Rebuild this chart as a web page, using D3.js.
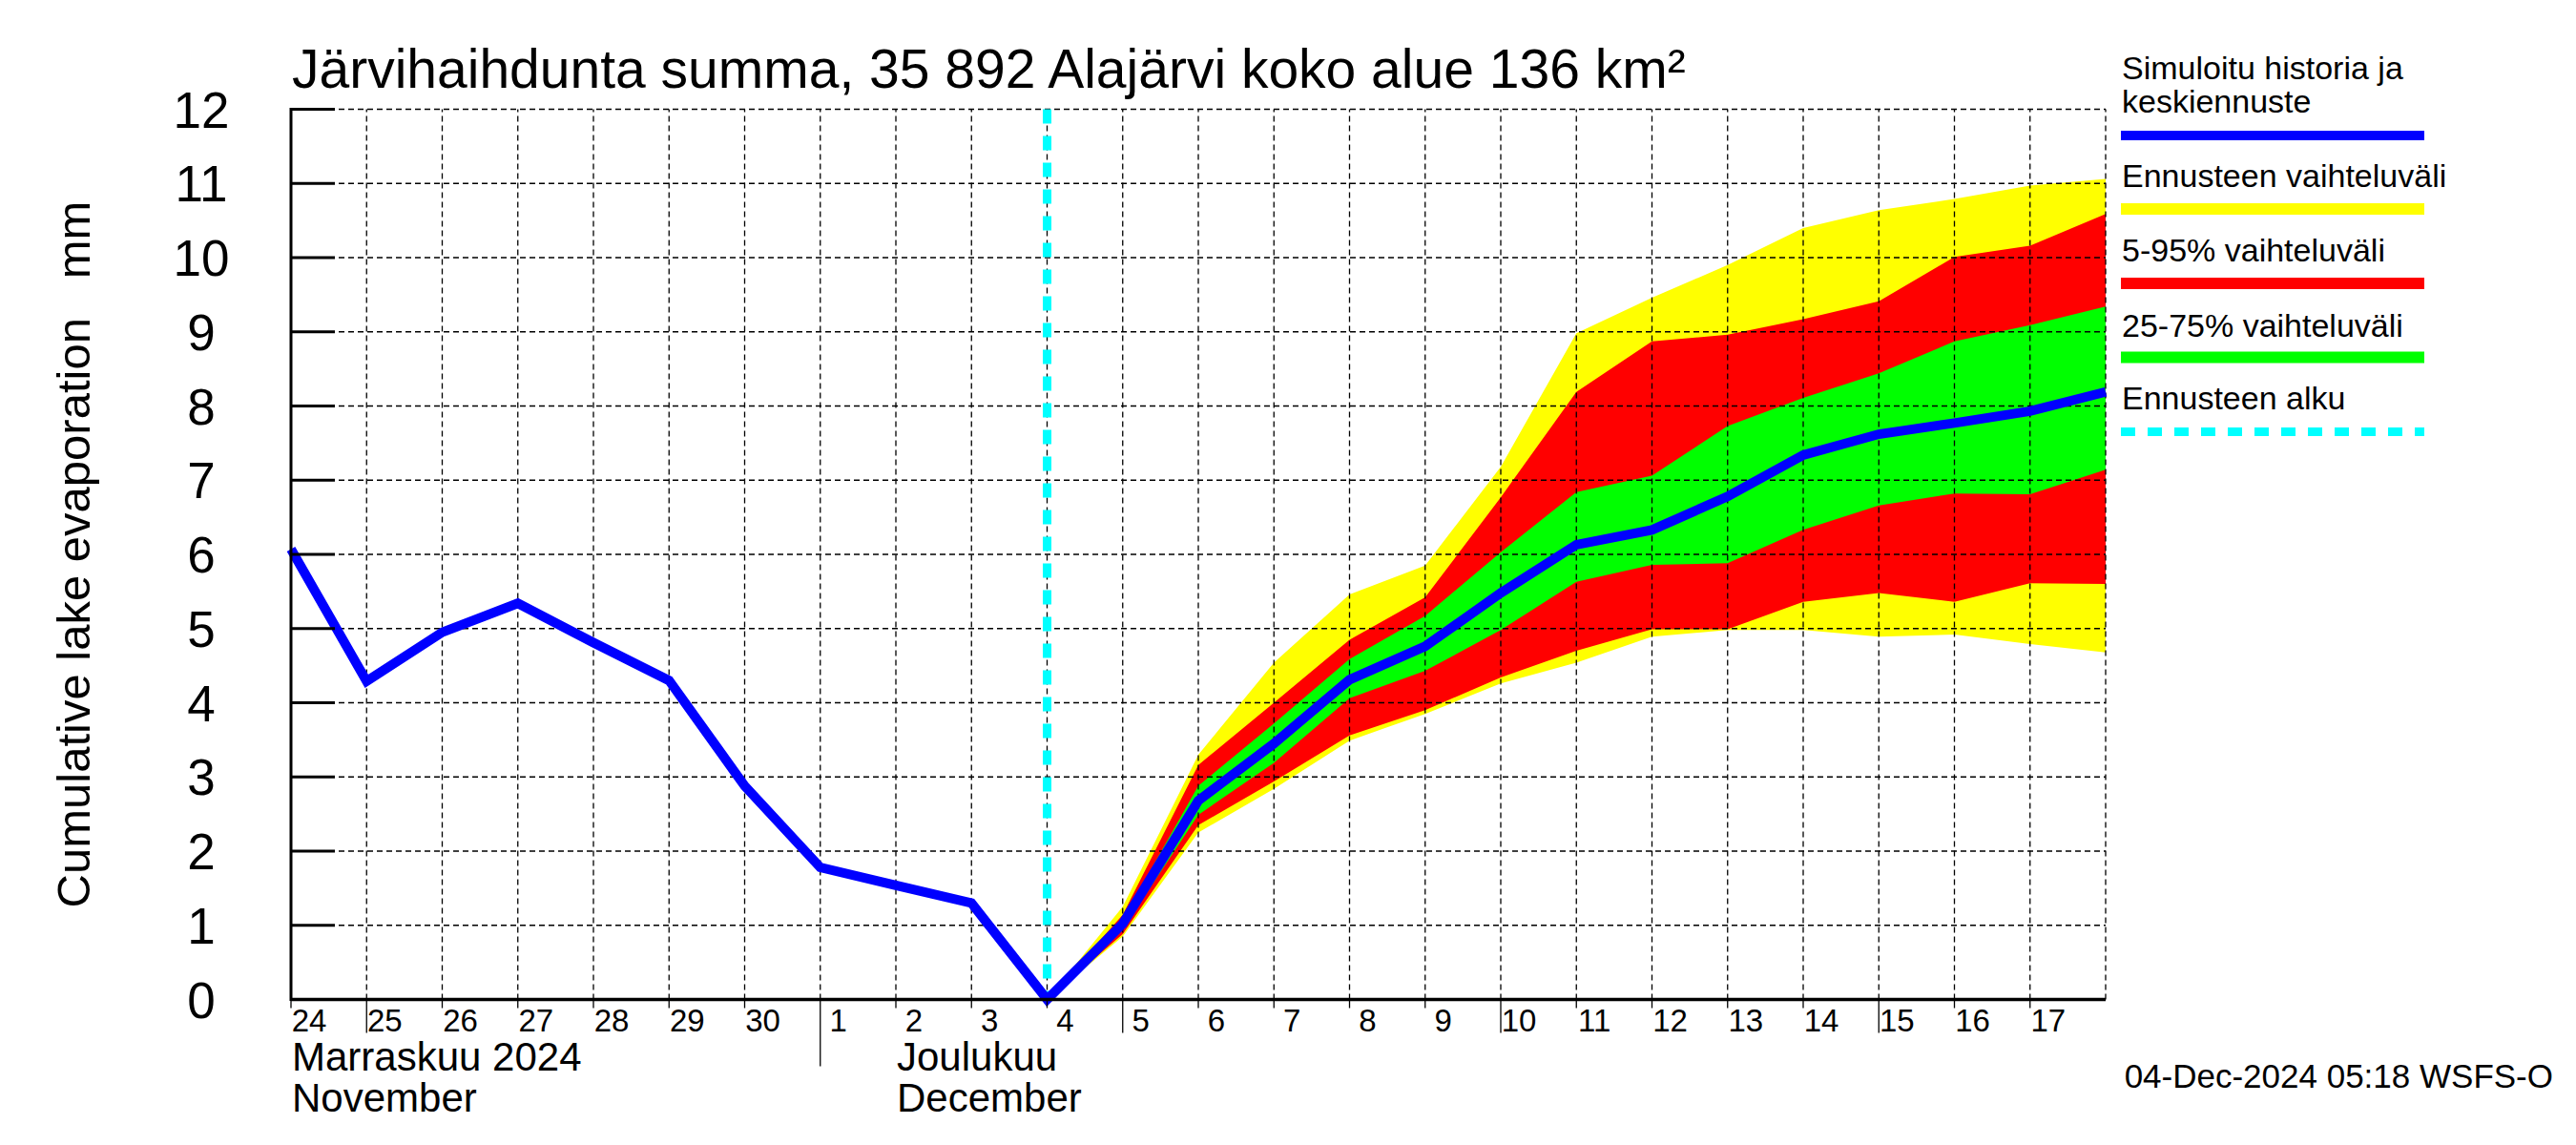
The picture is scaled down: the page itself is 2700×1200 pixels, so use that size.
<!DOCTYPE html>
<html><head><meta charset="utf-8">
<script src="https://cdn.jsdelivr.net/npm/d3@7"></script>
<style>
body{margin:0;background:#fff}
svg{display:block;background:#fff}
text{font-family:"Liberation Sans",Arial,Helvetica,sans-serif;fill:#000}
</style>
</head><body>
<svg id="chart" width="2700" height="1200"></svg>
<script>
// ---------- data ----------
const titleText = "Järvihaihdunta summa, 35 892 Alajärvi koko alue 136 km²";
const yAxisLabel = "Cumulative lake evaporation   mm";
const yTicks = [0,1,2,3,4,5,6,7,8,9,10,11,12];

const historyDates = ["2024-11-24","2024-11-25","2024-11-26","2024-11-27","2024-11-28","2024-11-29","2024-11-30","2024-12-01","2024-12-02","2024-12-03","2024-12-04"];
const historyValues = [6.07,4.29,4.95,5.34,4.81,4.30,2.88,1.78,1.54,1.30,0.0];

const forecastDates = ["2024-12-04","2024-12-05","2024-12-06","2024-12-07","2024-12-08","2024-12-09","2024-12-10","2024-12-11","2024-12-12","2024-12-13","2024-12-14","2024-12-15","2024-12-16","2024-12-17","2024-12-18"];
const forecastMax    = [0,1.25,3.30,4.54,5.46,5.85,7.18,8.98,9.46,9.90,10.40,10.64,10.79,10.97,11.06];
const forecastP95    = [0,1.14,3.16,4.00,4.85,5.42,6.77,8.19,8.87,8.96,9.17,9.41,10.01,10.16,10.59];
const forecastP75    = [0,1.08,2.88,3.72,4.59,5.17,6.03,6.84,7.06,7.73,8.11,8.44,8.87,9.09,9.34];
const forecastMedian = [0,1.02,2.68,3.45,4.31,4.76,5.48,6.13,6.33,6.78,7.34,7.62,7.77,7.93,8.19];
const forecastP25    = [0,0.95,2.49,3.19,4.06,4.43,4.98,5.63,5.86,5.88,6.33,6.66,6.82,6.81,7.14];
const forecastP5     = [0,0.88,2.35,2.94,3.56,3.90,4.34,4.70,4.99,4.99,5.36,5.48,5.36,5.61,5.60];
const forecastMin    = [0,0.85,2.25,2.84,3.49,3.85,4.26,4.54,4.89,4.98,4.98,4.89,4.92,4.79,4.68];

const forecastStart = "2024-12-04";
const axisStart = "2024-11-24";
const axisEnd = "2024-12-18";
const longTickDays = [5,10,15,20,25];

const monthLabels = [
  {date:"2024-11-24", lines:["Marraskuu 2024","November"]},
  {date:"2024-12-02", lines:["Joulukuu","December"]}
];
const monthStarts = ["2024-12-01"];

const legendLabels = [["Simuloitu historia ja","keskiennuste"],["Ennusteen vaihteluväli"],["5-95% vaihteluväli"],["25-75% vaihteluväli"],["Ennusteen alku"]];
const legendColors = ["#0000ff","#ffff00","#ff0000","#00ff00","#00ffff"];
const footerText = "04-Dec-2024 05:18 WSFS-O";

// ---------- drawing ----------
const parse = d3.timeParse("%Y-%m-%d");
const svg = d3.select("#chart");

const x = d3.scaleTime().domain([parse(axisStart), parse(axisEnd)]).range([305, 2207]);
const y = d3.scaleLinear().domain([0, 12]).range([1047.5, 114.5]);

const fc = forecastDates.map((d,i)=>({date:parse(d), max:forecastMax[i], p95:forecastP95[i], p75:forecastP75[i], med:forecastMedian[i], p25:forecastP25[i], p5:forecastP5[i], min:forecastMin[i]}));
const hist = historyDates.map((d,i)=>({date:parse(d), v:historyValues[i]}));

const band = (lo, hi) => d3.area().x(d=>x(d.date)).y0(d=>y(d[lo])).y1(d=>y(d[hi]));
svg.append("path").datum(fc).attr("d", band("min","max")).attr("fill","#ffff00");
svg.append("path").datum(fc).attr("d", band("p5","p95")).attr("fill","#ff0000");
svg.append("path").datum(fc).attr("d", band("p25","p75")).attr("fill","#00ff00");

// grid
const days = d3.timeDay.range(parse(axisStart), d3.timeDay.offset(parse(axisEnd),1));
const grid = svg.append("g").attr("stroke","#000").attr("stroke-width",1.3).attr("stroke-dasharray","6,4").attr("fill","none");
days.slice(1).forEach(d=>{
  grid.append("line").attr("x1",x(d)).attr("x2",x(d)).attr("y1",y(0)).attr("y2",y(12));
});
yTicks.slice(1).forEach(v=>{
  grid.append("line").attr("x1",x(parse(axisStart))).attr("x2",x(parse(axisEnd))).attr("y1",y(v)).attr("y2",y(v));
});

// forecast start line
svg.append("line").attr("x1",x(parse(forecastStart))).attr("x2",x(parse(forecastStart)))
  .attr("y1",y(12)).attr("y2",y(0)).attr("stroke","#00ffff").attr("stroke-width",9).attr("stroke-dasharray","15,13");

// blue line
const line = d3.line().x(d=>x(d.date)).y(d=>y(d.v));
const blueData = hist.concat(fc.slice(1).map(d=>({date:d.date, v:d.med})));
svg.append("path").datum(blueData).attr("d", line).attr("fill","none").attr("stroke","#0000ff").attr("stroke-width",10).attr("stroke-linejoin","miter");

// axes
const x0 = x(parse(axisStart));
svg.append("line").attr("x1",x0).attr("x2",x0).attr("y1",y(12)-1.5).attr("y2",y(0)+1.5).attr("stroke","#000").attr("stroke-width",3);
svg.append("line").attr("x1",x0).attr("x2",x(parse(axisEnd))).attr("y1",y(0)).attr("y2",y(0)).attr("stroke","#000").attr("stroke-width",3.5);
yTicks.forEach(v=>{
  svg.append("line").attr("x1",x0).attr("x2",x0+46).attr("y1",y(v)).attr("y2",y(v)).attr("stroke","#000").attr("stroke-width",3);
  svg.append("text").attr("x",211).attr("y",y(v)+19).attr("text-anchor","middle").attr("font-size",53).text(v);
});

// x ticks & labels
days.slice(0,-1).forEach(d=>{
  const isMonth = monthStarts.some(m=>+parse(m)===+d);
  const len = isMonth ? 70 : (longTickDays.includes(d.getDate()) ? 35 : 9);
  svg.append("line").attr("x1",x(d)).attr("x2",x(d)).attr("y1",y(0)).attr("y2",y(0)+len).attr("stroke","#000").attr("stroke-width",1.3);
  svg.append("text").attr("x",x(d)+19).attr("y",1081).attr("text-anchor","middle").attr("font-size",33).text(d.getDate());
});
monthLabels.forEach(m=>{
  m.lines.forEach((t,i)=>{
    svg.append("text").attr("x",x(parse(m.date))+1).attr("y",1122+i*43).attr("font-size",42).text(t);
  });
});

// title
svg.append("text").attr("x",306).attr("y",92).attr("font-size",57).text(titleText);

// y label
svg.append("text").attr("transform",`translate(94,${(y(0)+y(12))/2}) rotate(-90)`).attr("text-anchor","middle")
  .attr("font-size",49).style("white-space","pre").text(yAxisLabel);

// legend
const lg = svg.append("g");
const lgText = [[83,118],[196],[274],[353],[429]];
const lgLineY = [142,219,297,374.5,452.5];
const lgW = [10,12,12,12,9];
legendLabels.forEach((lines,i)=>{
  lines.forEach((t,j)=>{
    lg.append("text").attr("x",2224).attr("y",lgText[i][j]).attr("font-size",34).text(t);
  });
  const l = lg.append("line").attr("x1",2223).attr("x2",2541).attr("y1",lgLineY[i]).attr("y2",lgLineY[i])
    .attr("stroke",legendColors[i]).attr("stroke-width",lgW[i]);
  if (i===4) l.attr("stroke-dasharray","15,13");
});

// footer
svg.append("text").attr("x",2676).attr("y",1140).attr("text-anchor","end").attr("font-size",35).text(footerText);
</script>
</body></html>
